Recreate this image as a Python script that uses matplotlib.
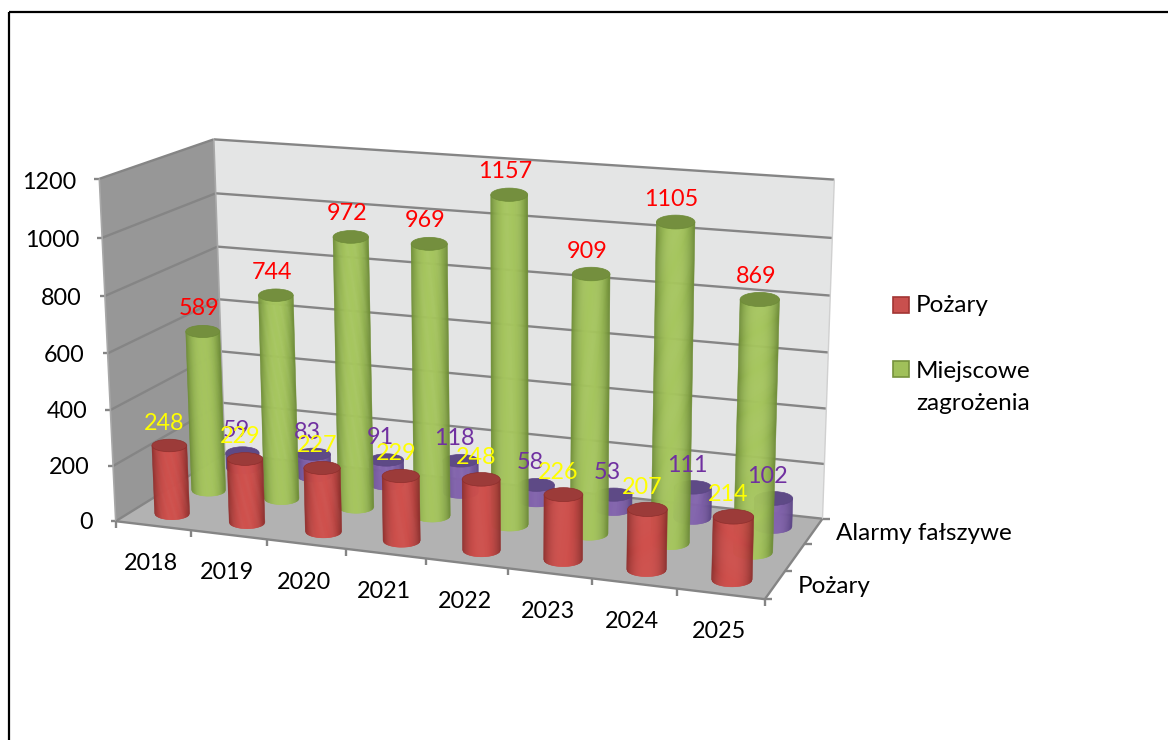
import numpy as np
import matplotlib
matplotlib.use("Agg")
import matplotlib.pyplot as plt
from matplotlib.collections import PolyCollection
from matplotlib.patches import Polygon, Rectangle, Ellipse

plt.rcParams['font.family'] = ['Lato', 'DejaVu Sans']

years = ['2018', '2019', '2020', '2021', '2022', '2023', '2024', '2025']
pozary = [248, 229, 227, 229, 248, 226, 207, 214]
miejscowe = [589, 744, 972, 969, 1157, 909, 1105, 869]
alarmy = [59, 83, 91, 118, 58, 53, 111, 102]
z_ticks = [0, 200, 400, 600, 800, 1000, 1200]
depth_labels = ['Pożary', 'Miejscowe zagrożenia', 'Alarmy fałszywe']

W, H = 1168, 740
NUM_FS, TXT_FS = 16.8, 17.5
fig = plt.figure(figsize=(W / 100, H / 100), dpi=100, facecolor='white')
ax = fig.add_axes([0, 0, 1, 1])
ax.set_xlim(0, W)
ax.set_ylim(H, 0)
ax.axis('off')

# Camera of the 3D box, fitted from the box corners in the picture
NX, NY, ZMAX = len(years), len(depth_labels), z_ticks[-1]
anchors = [((0, 0, 0), (116, 520)), ((NX, 0, 0), (765, 600)),
           ((NX, NY, 0), (822, 518)), ((0, NY, 0), (225, 455)),
           ((0, 0, ZMAX), (100, 179)), ((0, NY, ZMAX), (214, 139)),
           ((NX, NY, ZMAX), (834, 180)), ((0, 0, 1000), (102, 238)),
           ((0, 0, 800), (104, 296)), ((0, NY, 600), (219, 299)),
           ((NX, NY, 600), (829, 352))]
A, b = [], []
for (X, Y, Z), (u, v) in anchors:
    A.append([X, Y, Z, 1, 0, 0, 0, 0, -u * X, -u * Y, -u * Z]); b.append(u)
    A.append([0, 0, 0, 0, X, Y, Z, 1, -v * X, -v * Y, -v * Z]); b.append(v)
p = np.linalg.lstsq(np.array(A, float), np.array(b, float), rcond=None)[0]
P = np.append(p, 1).reshape(3, 4)


def proj(x, y, z):
    h = P @ np.array([x, y, z, 1.0])
    return h[0] / h[2], h[1] / h[2]


GRID = '#858585'
# walls and floor
ax.add_patch(Polygon([proj(0, 0, 0), proj(0, NY, 0), proj(0, NY, ZMAX), proj(0, 0, ZMAX)],
                     fc='#979797', ec='none', zorder=1))
ax.add_patch(Polygon([proj(0, NY, 0), proj(NX, NY, 0), proj(NX, NY, ZMAX), proj(0, NY, ZMAX)],
                     fc='#e4e5e5', ec='none', zorder=1))
ax.add_patch(Polygon([proj(0, 0, 0), proj(NX, 0, 0), proj(NX, NY, 0), proj(0, NY, 0)],
                     fc='#b2b2b2', ec='none', zorder=1))


def seg(a, b, lw=1.7, color=GRID, z=2):
    (x0, y0), (x1, y1) = a, b
    ax.plot([x0, x1], [y0, y1], color=color, lw=lw, zorder=z, solid_capstyle='butt')


for zt in z_ticks:
    seg(proj(0, 0, zt), proj(0, NY, zt))
    seg(proj(0, NY, zt), proj(NX, NY, zt))
    x0, y0 = proj(0, 0, zt)
    seg((x0 - 5, y0), (x0, y0))
    ax.text(x0 - 23, y0 + 1 + 2.5 * zt / ZMAX, str(zt), ha='right', va='center', fontsize=NUM_FS,
            color='black', zorder=20)
seg(proj(0, 0, 0), proj(0, 0, ZMAX), lw=1.2, color='#a8a8a8')
seg(proj(0, NY, 0), proj(0, NY, ZMAX), lw=1.2, color='#a8a8a8')
seg(proj(NX, NY, 0), proj(NX, NY, ZMAX), lw=1.0, color='#d0d0d0')
seg(proj(0, 0, 0), proj(NX, 0, 0))
seg(proj(NX, 0, 0), proj(NX, NY, 0))

for i in range(NX + 1):
    x0, y0 = proj(i, 0, 0)
    seg((x0, y0), (x0, y0 + 7))
for j in range(NY + 1):
    x0, y0 = proj(NX, j, 0)
    seg((x0, y0), (x0 + 7, y0))

for i, yr in enumerate(years):
    x0, y0 = proj(i + 0.5, 0, 0)
    ax.text(x0 - 2, y0 + 38, yr, ha='center', va='center', fontsize=NUM_FS, color='black', zorder=20)
for j in (0, 2):
    x0, y0 = proj(NX, j + 0.5, 0)
    ax.text(x0 + 22, y0 + 2, depth_labels[j], ha='left', va='center', fontsize=TXT_FS,
            color='black', zorder=20)


def mix(c0, c1, t):
    return tuple(np.array(matplotlib.colors.to_rgb(c0)) * (1 - t)
                 + np.array(matplotlib.colors.to_rgb(c1)) * t)


def cylinder(i, j, val, edge, mid, cap, zbase):
    xb, yb = proj(i + 0.5, j + 0.5, 0)
    xt, yt = proj(i + 0.5, j + 0.5, val)
    r = (proj(i + 0.735, j + 0.5, 0)[0] - proj(i + 0.265, j + 0.5, 0)[0]) / 2
    e = r * 0.36
    ts = np.linspace(-1, 1, 41)
    polys, cols = [], []
    for t0, t1 in zip(ts[:-1], ts[1:]):
        polys.append([(xt + r * t0, yt), (xt + r * t1, yt),
                      (xb + r * t1, yb + e * np.sqrt(1 - t1 ** 2)),
                      (xb + r * t0, yb + e * np.sqrt(1 - t0 ** 2))])
        tm = (t0 + t1) / 2
        cols.append(mix(edge, mid, np.clip(1 - abs(tm) ** 2.6, 0, 1)))
    ax.add_collection(PolyCollection(polys, facecolors=cols, edgecolors=cols, linewidths=0.4, zorder=zbase))
    ax.add_patch(Ellipse((xt, yt), 2 * r, 2 * e, fc=cap, ec=edge, lw=0.5, zorder=zbase + 0.1))
    return xt, yt


series = [
    (2, alarmy, '#5c4585', '#8364ad', '#5e4a86', '#7030a0', 3, (-6, -22)),
    (1, miejscowe, '#6d8b37', '#a6c65e', '#748f3e', '#ff0000', 4, (-4, -23)),
    (0, pozary, '#8e2f2d', '#d0504c', '#9c3b39', '#ffff00', 5, (-5, -22)),
]
for j, vals, edge, mid, cap, lc, zb, off in series:
    for i, v in enumerate(vals):
        xt, yt = cylinder(i, j, v, edge, mid, cap, zb + i * 0.01)
        ax.text(xt + off[0], yt + off[1], str(v), ha='center', va='center', fontsize=NUM_FS,
                color=lc, zorder=15)

# legend
ax.add_patch(Rectangle((893, 297), 16, 16, fc='#c9504e', ec='#a23533', lw=1.2, zorder=10))
ax.add_patch(Rectangle((893, 361), 16, 16, fc='#a0c05a', ec='#76923c', lw=1.2, zorder=10))
ax.text(916, 306, 'Pożary', ha='left', va='center', fontsize=TXT_FS, zorder=20)
ax.text(916, 371, 'Miejscowe', ha='left', va='center', fontsize=TXT_FS, zorder=20)
ax.text(916, 403, 'zagrożenia', ha='left', va='center', fontsize=TXT_FS, zorder=20)

# chart frame
ax.plot([9, 9], [H, 12], color='black', lw=1.6, zorder=30, solid_capstyle='butt')
ax.plot([9, W], [12, 12], color='black', lw=1.6, zorder=30, solid_capstyle='butt')

fig.savefig('out.png', dpi=100, facecolor='white')
